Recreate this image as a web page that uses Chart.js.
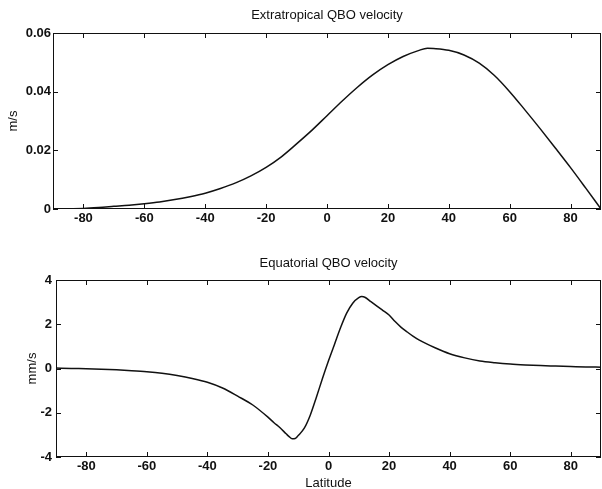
<!DOCTYPE html>
<html>
<head>
<meta charset="utf-8">
<script src="https://cdn.jsdelivr.net/npm/chart.js@4/dist/chart.umd.min.js"></script>
<style>
  html, body { margin: 0; padding: 0; background: #fff; overflow: hidden; }
  .plot { position: absolute; left: 0; }
  #top { top: 0; }
  #bot { top: 240px; }
</style>
</head>
<body>
<div class="plot" id="top" style="width:602px;height:240px"><canvas id="cTop"></canvas></div>
<div class="plot" id="bot" style="width:602px;height:252px"><canvas id="cBot"></canvas></div>
<script>
// ---- data ----
const xTicks = [-80, -60, -40, -20, 0, 20, 40, 60, 80];

// Extratropical QBO velocity (m/s)
const topLat = [-90, -85, -80, -75, -70, -65, -60, -55, -50, -45, -40, -35, -30, -25, -20, -15, -10, -5,
                0, 5, 10, 15, 20, 25, 30, 33, 35, 40, 45, 50, 55, 60, 65, 70, 75, 80, 85, 90];
const topVel = [0, 0.0001, 0.0002, 0.0005, 0.0009, 0.0013, 0.0018, 0.0024, 0.0032, 0.0042, 0.0054, 0.0070,
                0.0089, 0.0113, 0.0142, 0.0178, 0.0222, 0.0268, 0.0318, 0.0368, 0.0415, 0.0457, 0.0492,
                0.0520, 0.0540, 0.0548, 0.0547, 0.0541, 0.0525, 0.0497, 0.0455, 0.0400, 0.0338, 0.0274,
                0.0208, 0.0141, 0.0071, 0];
const topYTicks = [0, 0.02, 0.04, 0.06];

// Equatorial QBO velocity (mm/s)
const botLat = [-90, -85, -80, -75, -70, -65, -60, -55, -50, -45, -40, -35, -30, -25, -20, -18, -16, -14,
                -13, -12, -11, -10, -8, -6, -4, -2, 0, 2, 4, 6, 8, 10, 11, 12, 14, 16, 18, 20, 22, 24,
                26, 28, 30, 35, 40, 45, 50, 55, 60, 65, 70, 75, 80, 85, 90];
const botVel = [0.02, 0, -0.01, -0.03, -0.06, -0.1, -0.15, -0.22, -0.32, -0.45, -0.62, -0.88, -1.25, -1.65,
                -2.2, -2.45, -2.68, -2.95, -3.08, -3.17, -3.16, -3.03, -2.7, -2.1, -1.3, -0.45, 0.35, 1.1,
                1.85, 2.5, 2.95, 3.2, 3.25, 3.22, 3.02, 2.82, 2.62, 2.42, 2.12, 1.86, 1.65, 1.45, 1.28,
                0.95, 0.67, 0.48, 0.34, 0.26, 0.2, 0.16, 0.13, 0.11, 0.09, 0.07, 0.06];
const botYTicks = [-4, -2, 0, 2, 4];

const FONT = "'Liberation Sans', Arial, Helvetica, sans-serif";

// Matlab style box with inward ticks on every side
const boxTicks = {
  id: "boxTicks",
  afterDraw(chart){
    const {ctx, chartArea: a, scales: {x, y}} = chart;
    const tl = 5;
    ctx.save();
    ctx.strokeStyle = "#111";
    ctx.lineWidth = 1;
    ctx.strokeRect(a.left + 0.5, a.top + 0.5, a.right - a.left - 1, a.bottom - a.top - 1);
    ctx.beginPath();
    x.ticks.forEach(t=>{
      const px = Math.round(x.getPixelForValue(t.value)) + 0.5;
      ctx.moveTo(px, a.bottom); ctx.lineTo(px, a.bottom - tl);
      ctx.moveTo(px, a.top); ctx.lineTo(px, a.top + tl);
    });
    y.ticks.forEach(t=>{
      const py = Math.round(y.getPixelForValue(t.value)) + 0.5;
      ctx.moveTo(a.left, py); ctx.lineTo(a.left + tl, py);
      ctx.moveTo(a.right, py); ctx.lineTo(a.right - tl, py);
    });
    ctx.stroke();
    ctx.restore();
  }
};

function makePlot(id, opt){
  const pts = opt.lat.map((v,i)=>({x: v, y: opt.vel[i]}));
  return new Chart(document.getElementById(id), {
    type: "line",
    data: {
      datasets: [{
        data: pts,
        borderColor: "#111",
        borderWidth: 1.5,
        pointRadius: 0,
        cubicInterpolationMode: "monotone",
        fill: false
      }]
    },
    options: {
      responsive: true,
      maintainAspectRatio: false,
      animation: false,
      layout: { padding: { left: 0, right: 1, top: 0, bottom: 0 } },
      plugins: {
        legend: { display: false },
        tooltip: { enabled: false },
        title: {
          display: true,
          text: opt.title,
          fullSize: false,
          color: "#111",
          font: { family: FONT, size: 13, weight: "normal", lineHeight: "16px" },
          padding: opt.titlePad
        }
      },
      scales: {
        x: {
          type: "linear",
          min: -90, max: 90,
          grid: { display: false, drawTicks: false },
          border: { display: false },
          afterBuildTicks: s => { s.ticks = xTicks.map(v=>({value: v})); },
          afterFit: s => { s.height = opt.xHeight; },
          ticks: {
            color: "#111", padding: 2, maxRotation: 0, autoSkip: false,
            font: { family: FONT, size: 13, weight: "bold" }
          },
          title: {
            display: !!opt.xTitle,
            text: opt.xTitle || "",
            color: "#111",
            font: { family: FONT, size: 13, lineHeight: "16px" },
            padding: { top: 0, bottom: 1 }
          }
        },
        y: {
          type: "linear",
          min: opt.yTicks[0], max: opt.yTicks[opt.yTicks.length - 1],
          grid: { display: false, drawTicks: false },
          border: { display: false },
          afterBuildTicks: s => { s.ticks = opt.yTicks.map(v=>({value: v})); },
          afterFit: s => { s.width = opt.yWidth; },
          ticks: {
            color: "#111", padding: opt.yTickPad, autoSkip: false,
            font: { family: FONT, size: 13, weight: "bold" },
            callback: v => String(v)
          },
          title: {
            display: true,
            text: opt.yTitle,
            color: "#111",
            font: { family: FONT, size: 13, lineHeight: "16px" },
            padding: { top: opt.yTitlePad, bottom: 0 }
          }
        }
      }
    },
    plugins: [boxTicks]
  });
}

makePlot("cTop", {
  lat: topLat, vel: topVel, yTicks: topYTicks,
  title: "Extratropical QBO velocity",
  titlePad: { top: 7, bottom: 10 },
  yTitle: "m/s", yTitlePad: 5, yWidth: 53, yTickPad: 2,
  xHeight: 31
});

makePlot("cBot", {
  lat: botLat, vel: botVel, yTicks: botYTicks,
  title: "Equatorial QBO velocity",
  titlePad: { top: 15, bottom: 9 },
  yTitle: "mm/s", yTitlePad: 24, yWidth: 56, yTickPad: 4,
  xHeight: 35, xTitle: "Latitude"
});
</script>
</body>
</html>
